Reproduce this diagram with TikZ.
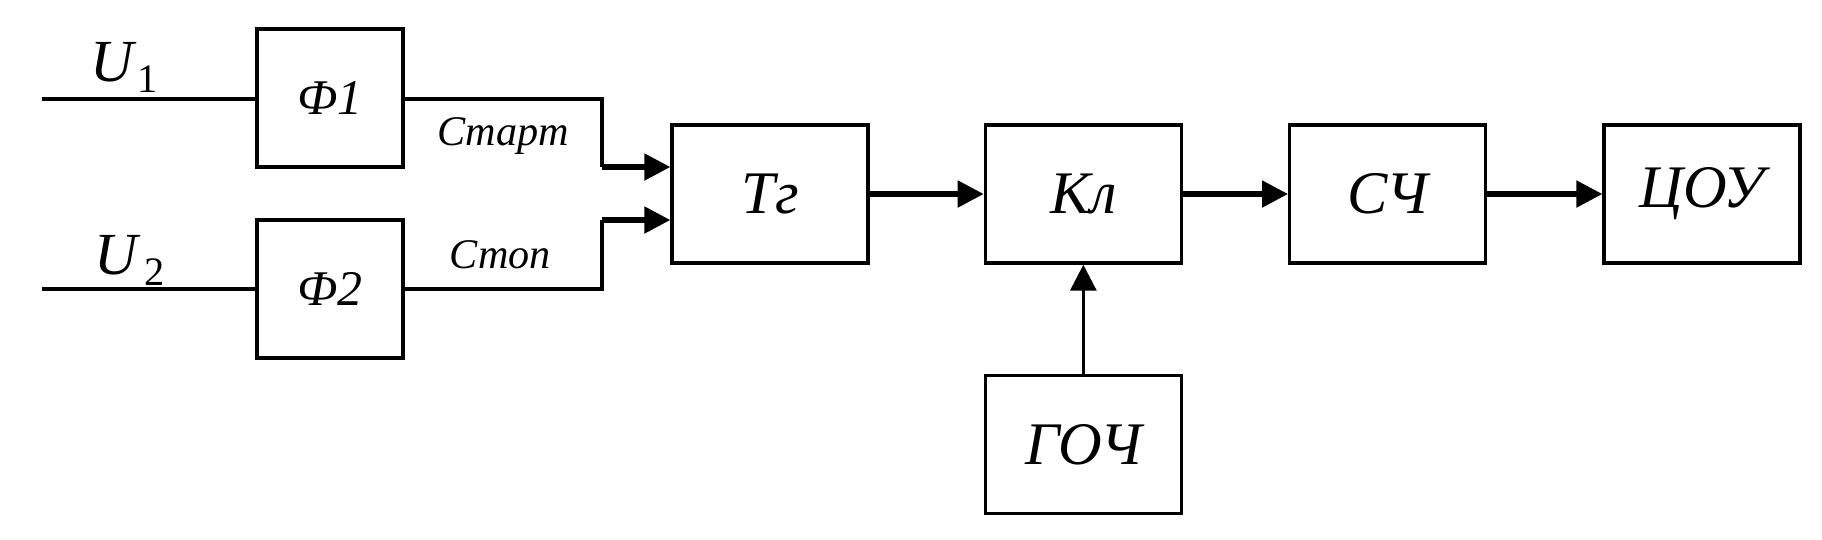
\documentclass[tikz,border=0pt]{standalone}
\usepackage{fontspec}
\setmainfont{Liberation Serif}
\usetikzlibrary{positioning,arrows.meta}

\begin{document}
\begin{tikzpicture}[main/.style = {draw, rectangle, line width=0.95pt, minimum width=1.96cm, minimum height=1.38cm, inner sep=0pt, font=\fontsize{17.2}{19}\selectfont\itshape},
	filt/.style = {main, minimum width=1.46cm, font=\fontsize{14.2}{16}\selectfont\itshape},
	lbl/.style = {inner sep=0pt, font=\fontsize{12}{14}\selectfont\itshape},
	wire/.style = {line width=0.9pt},
	arr/.style = {line width=1.45pt, -{Triangle[length=0.26cm, width=0.26cm]}}]
		\useasboundingbox (0,0) rectangle (18.22,-5.39);
		% blocks
		\node[filt] (f1) at (3.30,-0.98) {Ф1};
		\node[filt] (f2) at (3.30,-2.89) {Ф2};
		\node[main] (tg) at (7.70,-1.94) {Тг};
		\node[main] (kl) [right=1.14cm of tg] {Кл};
		\node[main] (sch) [right=1.05cm of kl] {СЧ};
		\node[main] (cou) [right=1.15cm of sch] {ЦОУ};
		\node[main] (goch) [below=1.09cm of kl] {ГОЧ};
		% inputs
		\coordinate (u1) at (0.42,-0.99);
		\coordinate (u2) at (0.42,-2.89);
		\node[anchor=base west, inner sep=0pt] (lu1) at (0.90,-0.81) {{\fontsize{17}{19}\selectfont\itshape U}\kern1pt\raisebox{-0.11cm}{\fontsize{11.5}{13}\selectfont 1}};
		\node[anchor=base west, inner sep=0pt] (lu2) at (0.94,-2.74) {{\fontsize{17}{19}\selectfont\itshape U}\kern2pt\raisebox{-0.11cm}{\fontsize{11.5}{13}\selectfont 2}};
		\draw[wire] (u1) -- (f1.west |- u1);
		\draw[wire] (u2) -- (f2);
		% start / stop
		\coordinate (a1) at (6.02,-0.99);
		\coordinate (b1) at (6.02,-1.67);
		\coordinate (a2) at (6.02,-2.89);
		\coordinate (b2) at (6.02,-2.20);
		\node[lbl, anchor=base] (start) at (5.03,-1.45) {Старт};
		\node[lbl, anchor=base] (stop) at (5.00,-2.68) {Стоп};
		\draw[wire] (f1.east |- a1) -- (a1) -- (b1);
		\draw[wire] (f2) -- (a2) -- (b2);
		\draw[arr] (b1) -- (b1 -| tg.west);
		\draw[arr] (b2) -- (b2 -| tg.west);
		% chain
		\draw[arr] (tg) -- (kl);
		\draw[arr] (kl) -- (sch);
		\draw[arr] (sch) -- (cou);
		\draw[wire, -{Triangle[length=0.26cm, width=0.26cm]}] (goch) -- (kl);
	\end{tikzpicture}
\end{document}
